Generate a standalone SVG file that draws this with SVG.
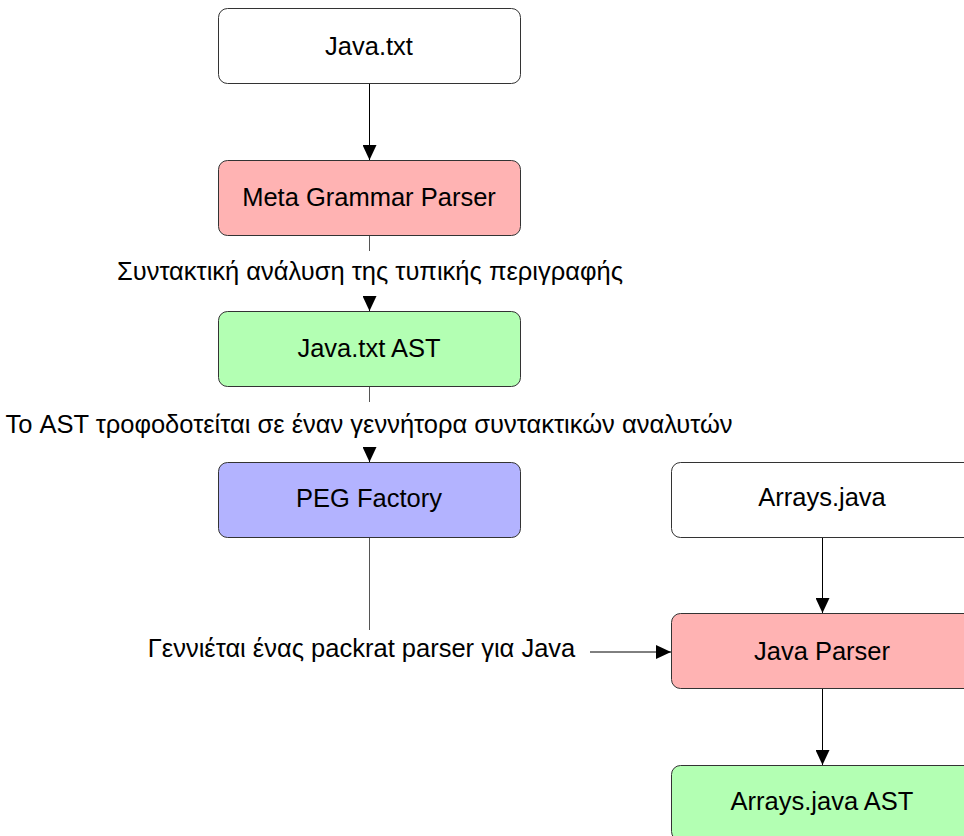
<svg xmlns="http://www.w3.org/2000/svg" width="964" height="836" viewBox="0 0 964 836">
  <style>
    .box { stroke: #333; stroke-width: 1; }
    .plain { fill: #ffffff; }
    .red { fill: #ffb3b3; }
    .green { fill: #b3ffb3; }
    .blue { fill: #b3b3ff; }
    text { font-family: "Liberation Sans", Arial, sans-serif; font-size: 25.5px; fill: #000; }
    .c { text-anchor: middle; }
    .edge { stroke: #000; stroke-width: 1; fill: none; }
    .edge-soft { stroke: #555; stroke-width: 1; fill: none; }
  </style>
  <defs>
    <marker id="arrow" viewBox="0 0 15 14" refX="15" refY="7" markerWidth="15" markerHeight="14" markerUnits="userSpaceOnUse" orient="auto">
      <path d="M0,0 L15,7 L0,14 Z" fill="#000"/>
    </marker>
  </defs>
  <rect width="964" height="836" fill="#ffffff"/>

  <g id="connectors">
    <line class="edge" x1="369.5" y1="84" x2="369.5" y2="160" marker-end="url(#arrow)"/>
    <line class="edge-soft" x1="369.5" y1="235" x2="369.5" y2="251"/>
    <line class="edge" x1="369.5" y1="296" x2="369.5" y2="311" marker-end="url(#arrow)"/>
    <line class="edge-soft" x1="369.5" y1="387" x2="369.5" y2="402"/>
    <line class="edge" x1="369.5" y1="447" x2="369.5" y2="462" marker-end="url(#arrow)"/>
    <line class="edge-soft" x1="369.5" y1="538" x2="369.5" y2="630"/>
    <line class="edge" x1="590" y1="652" x2="671" y2="652" marker-end="url(#arrow)"/>
    <line class="edge" x1="822.5" y1="538" x2="822.5" y2="613" marker-end="url(#arrow)"/>
    <line class="edge" x1="822.5" y1="689" x2="822.5" y2="765" marker-end="url(#arrow)"/>
    <text class="c" x="370" y="280">Συντακτική ανάλυση της τυπικής περιγραφής</text>
    <text class="c" x="369" y="433">Το AST τροφοδοτείται σε έναν γεννήτορα συντακτικών αναλυτών</text>
    <text class="c" x="361.5" y="657">Γεννιέται ένας packrat parser για Java</text>
  </g>

  <g id="java-txt">
    <rect class="box plain" x="218.5" y="8.5" width="302" height="75" rx="9"/>
    <text class="c" x="369" y="55">Java.txt</text>
  </g>
  <g id="meta-grammar-parser">
    <rect class="box red" x="218.5" y="160.5" width="302" height="75" rx="9"/>
    <text class="c" x="369" y="206">Meta Grammar Parser</text>
  </g>
  <g id="java-txt-ast">
    <rect class="box green" x="218.5" y="311.5" width="302" height="75" rx="9"/>
    <text class="c" x="369" y="357">Java.txt AST</text>
  </g>
  <g id="peg-factory">
    <rect class="box blue" x="218.5" y="462.5" width="302" height="75" rx="9"/>
    <text class="c" x="369" y="507">PEG Factory</text>
  </g>
  <g id="arrays-java">
    <rect class="box plain" x="671.5" y="462.5" width="302" height="75" rx="9"/>
    <text class="c" x="822" y="506">Arrays.java</text>
  </g>
  <g id="java-parser">
    <rect class="box red" x="671.5" y="613.5" width="302" height="75" rx="9"/>
    <text class="c" x="822" y="660">Java Parser</text>
  </g>
  <g id="arrays-java-ast">
    <rect class="box green" x="671.5" y="765.5" width="302" height="75" rx="9"/>
    <text class="c" x="822" y="810">Arrays.java AST</text>
  </g>
</svg>
